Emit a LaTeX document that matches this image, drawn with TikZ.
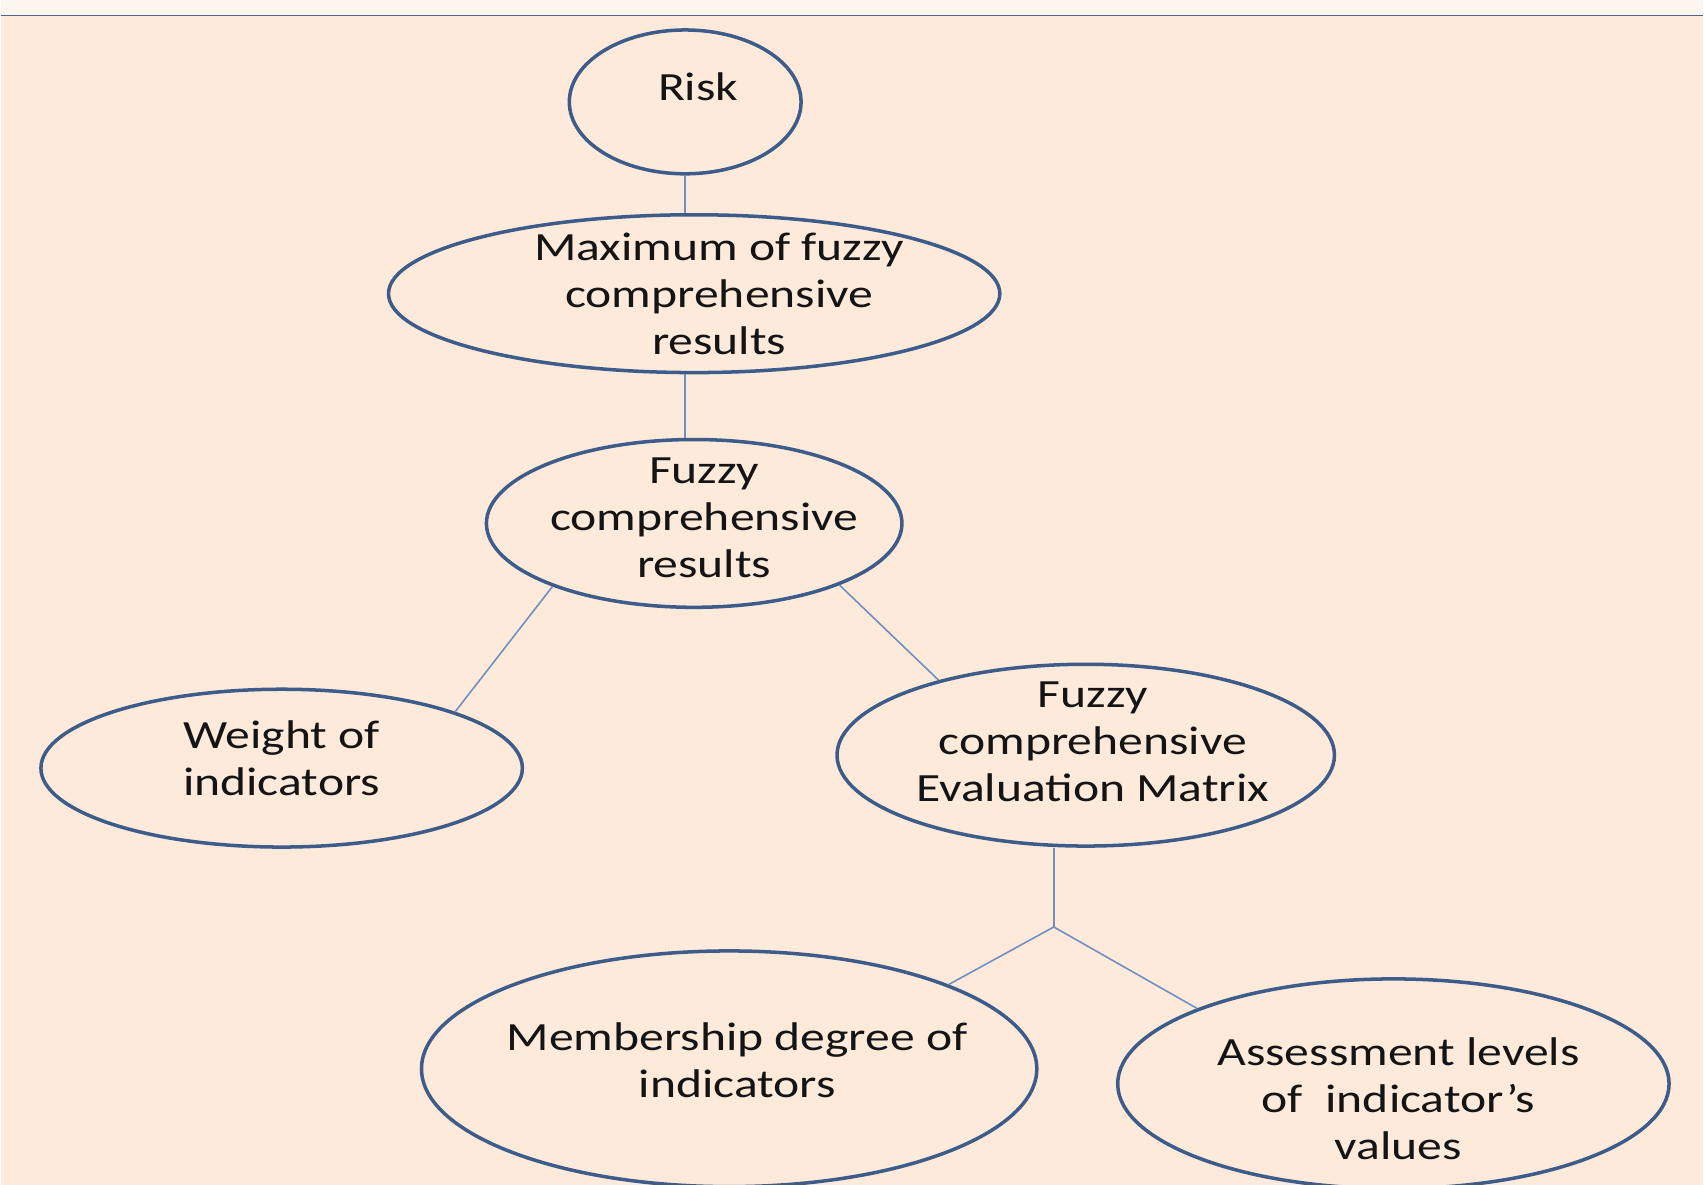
\documentclass[tikz,border=0pt]{standalone}
\usepackage{fontspec}
\setmainfont{Carlito}[FakeStretch=1.24]
\usetikzlibrary{shapes.geometric}
\definecolor{peach}{HTML}{FDEADB}
\definecolor{cream}{HTML}{FDF6EE}
\definecolor{rim}{HTML}{3D5C8A}
\definecolor{wire}{HTML}{6F8FC2}
\definecolor{rule}{HTML}{4D6396}
\definecolor{ink}{HTML}{141414}

\tikzset{
  bubble/.style={draw=rim, line width=2pt, ellipse, inner sep=0pt},
  txt/.style={font=\fontsize{22.8pt}{26.8pt}\selectfont, align=center, text=ink, inner sep=0pt},
  link/.style={draw=wire, line width=0.9pt},
}

\begin{document}
\begin{tikzpicture}
   % background: light strip on top, ruled off from the peach page
   \fill[cream] (0,0) rectangle (34.08,-0.31);
   \fill[peach] (0,-0.31) rectangle (34.08,-23.72);
   \draw[rule, line width=1.1pt] (0,-0.31) -- (34.08,-0.31);
   \useasboundingbox (0,0) rectangle (34.08,-23.72);

   % top of the tree
   \node[bubble, minimum width=4.64cm, minimum height=2.88cm,
         label={[txt, xshift=0.26cm, yshift=0.3cm]center:Risk}] (risk) at (13.70,-2.04) {};
   \node[bubble, minimum width=12.24cm, minimum height=3.16cm,
         label={[txt, xshift=0.5cm]center:Maximum of fuzzy\\comprehensive\\results}] (max) at (13.88,-5.88) {};
   \node[bubble, minimum width=8.32cm, minimum height=3.36cm,
         label={[txt, xshift=0.2cm, yshift=0.12cm]center:Fuzzy\\comprehensive\\results}] (fcr) at (13.88,-10.48) {};

   % the two inputs
   \node[bubble, minimum width=9.64cm, minimum height=3.16cm,
         label={[txt, yshift=0.2cm]center:Weight of\\indicators}] (weight) at (5.62,-15.38) {};
   \node[bubble, minimum width=9.96cm, minimum height=3.64cm,
         label={[txt, xshift=0.14cm, yshift=0.26cm]center:Fuzzy\\comprehensive\\Evaluation Matrix}] (fcem) at (21.72,-15.12) {};

   % what the matrix is built from
   \node[bubble, minimum width=12.32cm, minimum height=4.72cm,
         label={[txt, xshift=0.16cm, yshift=0.18cm]center:Membership degree of\\indicators}] (member) at (14.58,-21.40) {};
   \node[bubble, minimum width=11.04cm, minimum height=4.20cm,
         label={[txt, xshift=0.1cm, yshift=-0.3cm]center:Assessment levels\\of\ \ indicator’s\\values}] (assess) at (27.88,-21.70) {};
   \coordinate (fork) at (21.08,-18.56);

   \draw[link] (risk.south) -- (risk.south |- max.north);
   \draw[link] (max.south -| risk.south) -- (risk.south |- fcr.north);
   \draw[link] (fcr.204) -- (weight.18);
   \draw[link] (fcr.337) -- (fcem.153);
   \draw[link] (fork |- fcem.south) -- (fork);
   \draw[link] (fork) -- (member.21);
   \draw[link] (fork) -- (assess.159);
  \end{tikzpicture}
\end{document}
